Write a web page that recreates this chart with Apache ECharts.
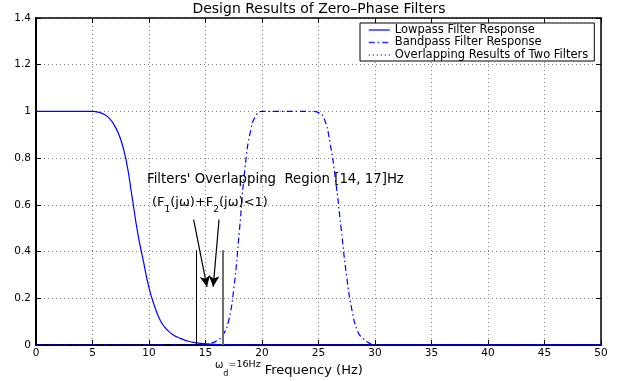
<!DOCTYPE html>
<html>
<head>
<meta charset="utf-8">
<script src="https://cdn.jsdelivr.net/npm/echarts@6/dist/echarts.min.js"></script>
<style>html,body{margin:0;padding:0;background:#fff}#c{width:621px;height:381px}</style>
</head>
<body>
<div id="c"></div>
<script>
// ---- data ----
var xTicks = [0, 5, 10, 15, 20, 25, 30, 35, 40, 45, 50];
var yTicks = [0, 0.2, 0.4, 0.6, 0.8, 1, 1.2, 1.4];

var lowFreq = [0,1,2,3,4,5,5.5,6,6.5,7,7.5,8,8.5,9,9.5,10,10.5,11,11.5,12,12.5,13,13.5,14,15,16,17,18,20,25,30,35,40,45,50];
var lowVals = [1,1,1,1,1,1,0.997,0.988,0.97,0.935,0.88,0.785,0.635,0.48,0.36,0.245,0.165,0.105,0.07,0.048,0.034,0.024,0.016,0.011,0.005,0.002,0.001,0,0,0,0,0,0,0,0];

var bandFreq = [0,5,10,14,14.5,15,15.5,16,16.5,17,17.5,18,18.5,19,19.5,20,22,24,24.5,25,25.5,26,26.5,27,27.5,28,28.5,29,29.5,30,35,40,45,50];
var bandVals = [0,0,0,0,0.001,0.003,0.008,0.018,0.04,0.095,0.24,0.49,0.76,0.92,0.985,1,1,1,1,0.995,0.97,0.87,0.71,0.5,0.29,0.14,0.055,0.025,0.008,0,0,0,0,0];

var overlapFreq = [0, 10, 20, 30, 40, 50];
var overlapVals = [0, 0, 0, 0, 0, 0];

// annotation lines (Hz, magnitude)
var markFreqs = [14.2, 16.5];
var markTop = 0.406;
var arrowStarts = [[13.95, 0.537], [16.2, 0.537]];
var arrowEnds = [[15.13, 0.249], [15.68, 0.249]];

var seriesNames = ['Lowpass Filter Response', 'Bandpass Filter Response', 'Overlapping Results of Two Filters'];
var titleText = 'Design Results of Zero\u2013Phase Filters';
var noteText = "Filters' Overlapping  Region [14, 17]Hz";

function pairs(xs, ys) { return xs.map(function (x, i) { return [x, ys[i]]; }); }

var FONT = 'DejaVu Sans';
var chart = echarts.init(document.getElementById('c'), null, {renderer: 'canvas'});

var axisBase = {
  type: 'value', min: 0, max: 50, interval: 5,
  axisLine: {show: true, onZero: false, lineStyle: {color: '#000', width: 2}},
  axisTick: {show: true, inside: true, length: 5, lineStyle: {color: '#000', width: 1}},
  splitLine: {show: false}
};

var option = {
  animation: false,
  backgroundColor: '#fff',
  grid: {left: 36, right: 20, top: 18, bottom: 36, containLabel: false, outerBoundsMode: 'none'},
  legend: {
    show: true,
    orient: 'vertical',
    left: 360, top: 23,
    data: seriesNames,
    backgroundColor: '#fff',
    borderColor: '#000', borderWidth: 1, borderRadius: 0,
    padding: [1, 6, 0, 8],
    itemWidth: 21, itemHeight: 10, itemGap: 0.5,
    itemStyle: {opacity: 0},
    lineStyle: {color: '#3333ff', width: 1.5, opacity: 1},
    textStyle: {fontFamily: FONT, fontSize: 11.5, color: '#000', lineHeight: 10},
    selectedMode: false
  },
  xAxis: [
    Object.assign({}, axisBase, {
      position: 'bottom',
      axisLabel: {show: true, margin: 3, color: '#000', fontFamily: FONT, fontSize: 10.5,
        formatter: function (v) { return xTicks.indexOf(v) >= 0 ? String(v) : ''; }},
      splitLine: {show: true, lineStyle: {color: '#808080', type: [1, 3], width: 1}}
    }),
    Object.assign({}, axisBase, {
      position: 'top',
      axisLine: {show: true, onZero: false, lineStyle: {color: '#000', width: 1.5}},
      axisLabel: {show: false}
    })
  ],
  yAxis: [
    Object.assign({}, axisBase, {
      min: 0, max: 1.4, interval: 0.2,
      position: 'left',
      axisLabel: {show: true, margin: 5, color: '#000', fontFamily: FONT, fontSize: 10.5,
        formatter: function (v) { var r = Math.round(v * 10) / 10; return yTicks.indexOf(r) >= 0 ? String(r) : ''; }},
      splitLine: {show: true, lineStyle: {color: '#808080', type: [1, 3], width: 1}}
    }),
    Object.assign({}, axisBase, {
      min: 0, max: 1.4, interval: 0.2,
      position: 'right',
      axisLine: {show: true, onZero: false, lineStyle: {color: '#000', width: 1.5}},
      axisLabel: {show: false}
    })
  ],
  series: [
    {
      name: seriesNames[0], type: 'line', data: pairs(lowFreq, lowVals),
      smooth: 0.5, symbol: 'none', showSymbol: false,
      lineStyle: {color: '#0000ff', width: 1.2, type: 'solid'},
      itemStyle: {color: '#0000ff'}, z: 3, silent: true
    },
    {
      name: seriesNames[1], type: 'line', data: pairs(bandFreq, bandVals),
      smooth: 0.5, symbol: 'none', showSymbol: false,
      lineStyle: {color: '#0000ff', width: 1.2, type: [6, 3, 1.5, 3]},
      itemStyle: {color: '#0000ff'}, z: 3, silent: true
    },
    {
      name: seriesNames[2], type: 'line', data: pairs(overlapFreq, overlapVals),
      symbol: 'none', showSymbol: false,
      lineStyle: {color: '#0000cc', width: 1.2, type: [1, 3]},
      itemStyle: {color: '#0000cc'}, z: 4, silent: true
    },
    {
      name: 'marks', type: 'line', data: [], silent: true, z: 5,
      markLine: {
        silent: true, animation: false, symbol: ['none', 'none'],
        label: {show: false}, emphasis: {disabled: true},
        data: [
          [{coord: [markFreqs[0], 0], lineStyle: {color: '#000', width: 1, type: 'solid'}}, {coord: [markFreqs[0], markTop]}],
          [{coord: [markFreqs[1], 0], lineStyle: {color: '#6e6e6e', width: 2, type: 'solid'}}, {coord: [markFreqs[1], markTop]}]
        ]
      }
    },
    {
      name: 'arrows', type: 'line', data: [], silent: true, z: 5,
      markLine: {
        silent: true, animation: false, symbol: ['none', 'arrow'], symbolSize: [8, 11],
        label: {show: false}, emphasis: {disabled: true},
        lineStyle: {color: '#000', width: 1.2, type: 'solid'},
        itemStyle: {color: '#000'},
        data: [
          [{coord: arrowStarts[0]}, {coord: arrowEnds[0]}],
          [{coord: arrowStarts[1]}, {coord: arrowEnds[1]}]
        ]
      }
    }
  ],
  graphic: [
    {type: 'text', x: 319, y: 9, silent: true,
      style: {text: titleText, fontFamily: FONT, fontSize: 14, fill: '#000', align: 'center', verticalAlign: 'middle'}},
    {type: 'text', x: 147, y: 180, silent: true, z: 10,
      style: {text: noteText, fontFamily: FONT, fontSize: 13.3, fill: '#000', align: 'left', verticalAlign: 'middle'}},
    {type: 'text', x: 152, y: 196, silent: true, z: 10,
      style: {
        text: '{n|(F}{s|1}{n|(j\u03c9)+F}{s|2}{n|(j\u03c9)<1)}',
        align: 'left', verticalAlign: 'top',
        rich: {
          n: {fontFamily: FONT, fontSize: 13, fill: '#000', height: 14, lineHeight: 19, verticalAlign: 'top'},
          s: {fontFamily: FONT, fontSize: 9, fill: '#000', height: 10, lineHeight: 19, verticalAlign: 'bottom'}
        }
      }},
    {type: 'text', x: 215, y: 360, silent: true, z: 10,
      style: {
        text: '{w|\u03c9}{d|d}{e|=16Hz}{f| Frequency (Hz)}',
        align: 'left', verticalAlign: 'top',
        rich: {
          w: {fontFamily: FONT, fontSize: 10, fill: '#000', height: 10, lineHeight: 18, verticalAlign: 'top'},
          d: {fontFamily: FONT, fontSize: 8, fill: '#000', height: 8, lineHeight: 18, verticalAlign: 'bottom'},
          e: {fontFamily: FONT, fontSize: 9.5, fill: '#000', height: 10, lineHeight: 18, verticalAlign: 'top'},
          f: {fontFamily: FONT, fontSize: 13, fill: '#000', height: 14, lineHeight: 18, verticalAlign: 'bottom'}
        }
      }}
  ]
};
chart.setOption(option);
</script>
</body>
</html>
